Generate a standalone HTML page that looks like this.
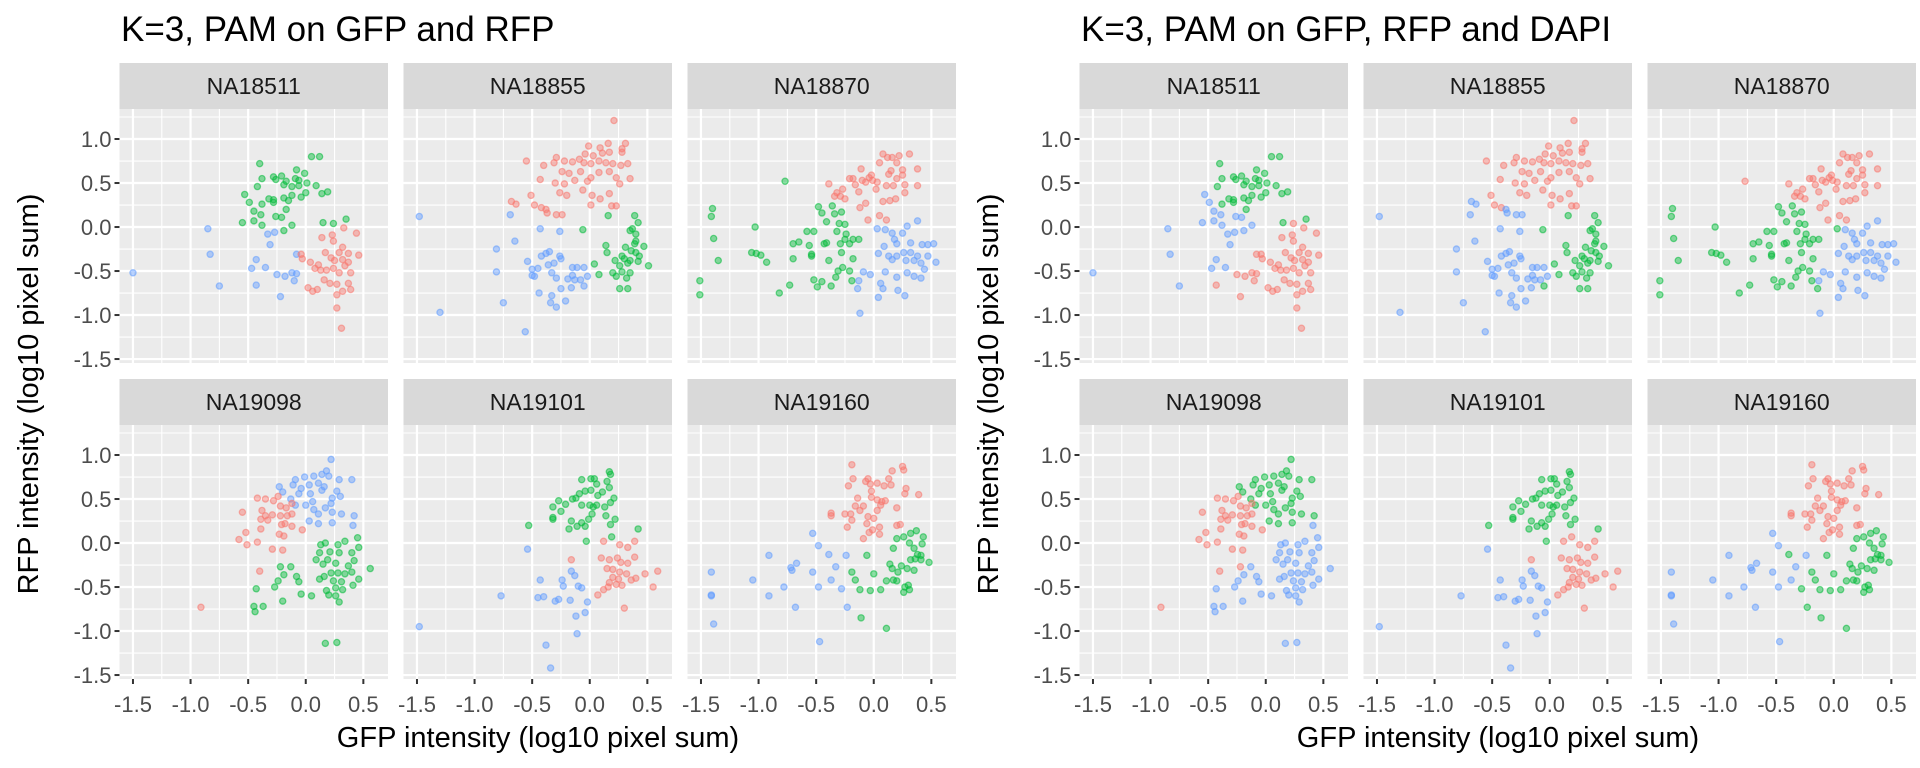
<!DOCTYPE html>
<html><head><meta charset="utf-8">
<style>
html,body{margin:0;padding:0;background:#fff;}
svg{display:block;font-family:"Liberation Sans",Arial,sans-serif;}
</style></head>
<body>
<svg id="chart" width="1920" height="768" viewBox="0 0 1920 768" xmlns="http://www.w3.org/2000/svg">
<rect width="1920" height="768" fill="#fff"/>
</svg>
<script>
// ---- data ----
const plotTitles = ["K=3, PAM on GFP and RFP", "K=3, PAM on GFP, RFP and DAPI"];
const panelNames = ["NA18511","NA18855","NA18870","NA19098","NA19101","NA19160"];
const xTicks = [-1.5,-1.0,-0.5,0.0,0.5];
const xTickLabels = ["-1.5","-1.0","-0.5","0.0","0.5"];
const yTicks = [1.0,0.5,0.0,-0.5,-1.0,-1.5];
const yTickLabels = ["1.0","0.5","0.0","-0.5","-1.0","-1.5"];
// points: [gfp, rfp, cluster in left plot, cluster in right plot]
const NA18511 = [
[-0.4,0.72,"G","G"],[0.05,0.8,"G","G"],[0.12,0.8,"G","G"],[-0.08,0.65,"G","G"],[-0.01,0.61,"G","G"],[-0.28,0.57,"G","G"],[-0.21,0.58,"G","G"],[-0.38,0.55,"G","G"],[-0.26,0.54,"G","G"],[-0.17,0.52,"G","G"],[-0.09,0.55,"G","G"],[-0.06,0.53,"G","G"],[0.01,0.5,"G","G"],[0.09,0.47,"G","G"],[-0.42,0.46,"G","G"],[-0.19,0.48,"G","G"],[-0.12,0.46,"G","G"],[-0.06,0.47,"G","G"],[-0.32,0.32,"G","G"],[-0.28,0.31,"G","G"],[-0.28,0.28,"G","G"],[-0.19,0.33,"G","G"],[-0.15,0.3,"G","G"],[-0.12,0.36,"G","G"],[-0.04,0.34,"G","G"],[0.0,0.39,"G","G"],[0.14,0.38,"G","G"],[0.19,0.4,"G","G"],[-0.38,0.26,"G","G"],[-0.17,0.2,"G","G"],[0.15,0.05,"G","G"],[0.35,0.09,"G","G"],[0.24,0.04,"G","R"],
[-0.53,0.37,"G","B"],[-0.49,0.28,"G","B"],[-0.45,0.18,"G","B"],[-0.39,0.14,"G","B"],[-0.26,0.12,"G","B"],[-0.21,0.11,"G","B"],[-0.45,0.07,"G","B"],[-0.55,0.05,"G","B"],[-0.38,0.02,"G","B"],[-0.12,0.02,"G","B"],[-0.19,-0.04,"G","B"],
[-1.5,-0.52,"B","B"],[-0.85,-0.02,"B","B"],[-0.83,-0.31,"B","B"],[-0.75,-0.67,"B","B"],[-0.33,-0.08,"B","B"],[-0.27,-0.06,"B","B"],[-0.31,-0.2,"B","B"],[-0.43,-0.37,"B","B"],[-0.47,-0.47,"B","B"],[-0.35,-0.46,"B","B"],
[-0.43,-0.66,"B","R"],[-0.25,-0.54,"B","R"],[-0.18,-0.56,"B","R"],[-0.12,-0.52,"B","R"],[-0.08,-0.53,"B","R"],[-0.1,-0.61,"B","R"],[-0.22,-0.79,"B","R"],[-0.08,-0.31,"B","R"],
[-0.04,-0.31,"R","R"],[-0.03,-0.36,"R","R"],[0.04,-0.4,"R","R"],[0.14,-0.12,"R","R"],[0.23,-0.09,"R","R"],[0.24,-0.16,"R","R"],[0.33,-0.01,"R","R"],[0.44,-0.07,"R","R"],[0.32,-0.23,"R","R"],[0.17,-0.29,"R","R"],[0.29,-0.29,"R","R"],[0.37,-0.3,"R","R"],[0.46,-0.32,"R","R"],[0.22,-0.35,"R","R"],[0.25,-0.38,"R","R"],[0.32,-0.37,"R","R"],[0.37,-0.4,"R","R"],[0.08,-0.47,"R","R"],[0.13,-0.49,"R","R"],[0.18,-0.49,"R","R"],[0.24,-0.47,"R","R"],[0.29,-0.52,"R","R"],[0.39,-0.52,"R","R"],[0.16,-0.6,"R","R"],[0.21,-0.64,"R","R"],[0.27,-0.65,"R","R"],[0.37,-0.64,"R","R"],[0.02,-0.69,"R","R"],[0.06,-0.73,"R","R"],[0.1,-0.71,"R","R"],[0.32,-0.73,"R","R"],[0.39,-0.71,"R","R"],[0.27,-0.77,"R","R"],[0.27,-0.92,"R","R"],[0.31,-1.15,"R","R"],[0.11,-0.43,"R","R"],[0.34,-0.44,"R","R"]
];
const NA18855 = [
[0.21,1.21,"R","R"],[0.16,0.95,"R","R"],[0.31,0.95,"R","R"],[-0.01,0.92,"R","R"],[0.09,0.9,"R","R"],[0.28,0.89,"R","R"],[-0.04,0.83,"R","R"],[0.03,0.81,"R","R"],[0.11,0.84,"R","R"],[0.17,0.85,"R","R"],[0.28,0.85,"R","R"],[-0.55,0.75,"R","R"],[-0.29,0.79,"R","R"],[-0.31,0.73,"R","R"],[-0.22,0.75,"R","R"],[-0.15,0.74,"R","R"],[-0.09,0.77,"R","R"],[-0.05,0.73,"R","R"],[0.01,0.72,"R","R"],[0.08,0.75,"R","R"],[0.14,0.73,"R","R"],[0.2,0.72,"R","R"],[0.27,0.7,"R","R"],[0.33,0.72,"R","R"],[-0.4,0.7,"R","R"],[-0.24,0.63,"R","R"],[-0.18,0.61,"R","R"],[-0.08,0.63,"R","R"],[0.01,0.56,"R","R"],[0.08,0.62,"R","R"],[0.17,0.63,"R","R"],[0.23,0.56,"R","R"],[0.35,0.55,"R","R"],[-0.43,0.54,"R","R"],[-0.3,0.5,"R","R"],[-0.22,0.49,"R","R"],[-0.13,0.53,"R","R"],[-0.02,0.52,"R","R"],[0.26,0.49,"R","R"],[-0.26,0.39,"R","R"],[-0.2,0.36,"R","R"],[-0.06,0.42,"R","R"],[0.02,0.36,"R","R"],[0.09,0.32,"R","R"],[0.17,0.38,"R","R"],[-0.51,0.36,"R","R"],[-0.68,0.29,"R","B"],[-0.64,0.26,"R","B"],[-0.48,0.25,"R","R"],[-0.42,0.22,"R","R"],[-0.38,0.2,"R","B"],[-0.37,0.16,"R","B"],[-0.29,0.14,"R","B"],[-0.24,0.14,"R","B"],[0.01,0.25,"R","R"],[0.19,0.24,"R","R"],[0.23,0.24,"R","R"],
[-1.48,0.12,"B","B"],[-0.69,0.14,"B","B"],[-0.43,-0.02,"B","B"],[-0.26,-0.05,"B","B"],[-0.65,-0.16,"B","B"],[-0.81,-0.25,"B","B"],[-0.81,-0.51,"B","B"],[-0.75,-0.86,"B","B"],[-1.3,-0.97,"B","B"],[-0.56,-1.19,"B","B"],[-0.54,-0.39,"B","B"],[-0.5,-0.48,"B","B"],[-0.5,-0.55,"B","B"],[-0.48,-0.56,"B","B"],[-0.45,-0.47,"B","B"],[-0.42,-0.33,"B","B"],[-0.38,-0.3,"B","B"],[-0.35,-0.28,"B","B"],[-0.36,-0.43,"B","B"],[-0.31,-0.41,"B","B"],[-0.26,-0.33,"B","B"],[-0.25,-0.36,"B","B"],[-0.33,-0.52,"B","B"],[-0.29,-0.58,"B","B"],[-0.25,-0.7,"B","B"],[-0.15,-0.46,"B","B"],[-0.11,-0.46,"B","B"],[-0.15,-0.55,"B","B"],[-0.19,-0.59,"B","B"],[-0.13,-0.6,"B","B"],[-0.08,-0.6,"B","B"],[-0.05,-0.67,"B","G"],[-0.02,-0.56,"B","B"],[-0.16,-0.69,"B","B"],[-0.44,-0.75,"B","B"],[-0.33,-0.78,"B","B"],[-0.34,-0.86,"B","B"],[-0.29,-0.91,"B","B"],[-0.21,-0.84,"B","B"],[-0.05,-0.46,"B","B"],
[0.16,0.13,"G","G"],[-0.06,-0.03,"G","G"],[0.39,0.13,"G","G"],[0.42,0.05,"G","G"],[0.37,-0.02,"G","G"],[0.35,-0.04,"G","G"],[0.4,-0.08,"G","G"],[0.4,-0.16,"G","G"],[0.39,-0.19,"G","G"],[0.14,-0.21,"G","G"],[0.15,-0.29,"G","G"],[0.47,-0.22,"G","G"],[0.31,-0.23,"G","G"],[0.36,-0.27,"G","G"],[0.4,-0.29,"G","G"],[0.28,-0.33,"G","G"],[0.43,-0.33,"G","G"],[0.22,-0.38,"G","G"],[0.3,-0.36,"G","G"],[0.35,-0.38,"G","G"],[0.42,-0.39,"G","G"],[0.04,-0.42,"G","G"],[0.26,-0.44,"G","G"],[0.33,-0.41,"G","G"],[0.51,-0.44,"G","G"],[0.2,-0.52,"G","G"],[0.28,-0.51,"G","G"],[0.35,-0.52,"G","G"],[0.08,-0.54,"G","G"],[0.23,-0.56,"G","G"],[0.32,-0.58,"G","G"],[0.26,-0.7,"G","G"],[0.33,-0.7,"G","G"]
];
const NA18870 = [
[-0.77,0.52,"G","R"],[-1.4,0.21,"G","G"],[-1.41,0.12,"G","G"],[-1.39,-0.13,"G","G"],[-1.35,-0.38,"G","G"],[-1.51,-0.61,"G","G"],[-1.51,-0.77,"G","G"],[-1.03,0.0,"G","G"],[-1.06,-0.29,"G","G"],[-1.02,-0.3,"G","G"],[-0.98,-0.32,"G","G"],[-0.93,-0.4,"G","G"],[-0.82,-0.75,"G","G"],[-0.73,-0.66,"G","G"],[-0.7,-0.36,"G","G"],[-0.7,-0.19,"G","G"],[-0.65,-0.17,"G","G"],[-0.58,-0.05,"G","G"],[-0.52,-0.05,"G","G"],[-0.56,-0.21,"G","G"],[-0.54,-0.31,"G","G"],[-0.54,-0.33,"G","G"],[-0.52,-0.6,"G","G"],[-0.49,-0.68,"G","G"],[-0.45,-0.62,"G","G"],[-0.37,-0.67,"G","G"],[-0.48,0.23,"G","G"],[-0.45,0.16,"G","G"],[-0.41,0.06,"G","G"],[-0.36,0.24,"G","G"],[-0.34,0.15,"G","G"],[-0.28,0.17,"G","G"],[-0.3,0.04,"G","G"],[-0.25,0.03,"G","G"],[-0.32,-0.05,"G","G"],[-0.43,-0.19,"G","G"],[-0.41,-0.18,"G","G"],[-0.39,-0.38,"G","G"],[-0.28,-0.29,"G","G"],[-0.29,-0.19,"G","G"],[-0.24,-0.08,"G","G"],[-0.25,-0.14,"G","G"],[-0.21,-0.19,"G","G"],[-0.18,-0.14,"G","G"],[-0.13,-0.14,"G","G"],[-0.18,-0.36,"G","G"],[-0.31,-0.5,"G","G"],[-0.27,-0.46,"G","G"],[-0.21,-0.5,"G","G"],[-0.33,-0.57,"G","G"],[-0.19,-0.61,"G","G"],
[-0.39,0.49,"R","R"],[-0.32,0.39,"R","R"],[-0.34,0.35,"R","R"],[-0.29,0.35,"R","R"],[-0.25,0.32,"R","R"],[-0.27,0.43,"R","R"],[-0.21,0.55,"R","R"],[-0.18,0.55,"R","R"],[-0.11,0.66,"R","R"],[-0.16,0.48,"R","R"],[-0.13,0.4,"R","R"],[-0.1,0.53,"R","R"],[-0.07,0.51,"R","R"],[-0.04,0.56,"R","R"],[-0.01,0.53,"R","R"],[0.03,0.51,"R","R"],[-0.02,0.59,"R","R"],[0.02,0.43,"R","R"],[0.05,0.73,"R","R"],[0.08,0.83,"R","R"],[0.12,0.79,"R","R"],[0.16,0.79,"R","R"],[0.22,0.81,"R","R"],[0.2,0.73,"R","R"],[0.31,0.83,"R","R"],[0.13,0.6,"R","R"],[0.15,0.64,"R","R"],[0.25,0.65,"R","R"],[0.25,0.59,"R","R"],[0.38,0.66,"R","R"],[0.2,0.55,"R","R"],[0.11,0.47,"R","R"],[0.17,0.47,"R","R"],[0.27,0.48,"R","R"],[0.38,0.47,"R","R"],[0.27,0.39,"R","R"],[0.19,0.32,"R","R"],[0.14,0.3,"R","R"],[0.08,0.29,"R","R"],[-0.07,0.27,"R","R"],[-0.12,0.22,"R","R"],[0.05,0.13,"R","R"],[0.11,0.08,"R","R"],[-0.05,0.08,"R","R"],
[0.38,0.07,"B","B"],[0.29,0.01,"B","B"],[0.03,-0.02,"B","G"],[0.1,-0.03,"B","B"],[0.16,-0.07,"B","B"],[0.25,-0.07,"B","B"],[0.18,-0.14,"B","B"],[0.2,-0.19,"B","B"],[0.32,-0.18,"B","B"],[0.42,-0.2,"B","B"],[0.47,-0.2,"B","B"],[0.52,-0.19,"B","B"],[0.09,-0.22,"B","B"],[0.04,-0.3,"B","B"],[0.13,-0.33,"B","B"],[0.2,-0.33,"B","B"],[0.26,-0.29,"B","B"],[0.32,-0.29,"B","B"],[0.38,-0.33,"B","B"],[0.47,-0.33,"B","B"],[0.54,-0.4,"B","B"],[0.16,-0.37,"B","B"],[0.28,-0.38,"B","B"],[0.35,-0.38,"B","B"],[0.41,-0.41,"B","B"],[0.44,-0.48,"B","B"],[0.1,-0.51,"B","B"],[0.2,-0.57,"B","B"],[0.29,-0.52,"B","B"],[0.35,-0.56,"B","B"],[0.41,-0.58,"B","B"],[-0.09,-0.51,"B","B"],[-0.03,-0.54,"B","B"],[-0.13,-0.61,"B","B"],[-0.14,-0.7,"B","G"],[0.06,-0.64,"B","B"],[0.08,-0.7,"B","B"],[0.21,-0.72,"B","B"],[0.27,-0.78,"B","B"],[0.04,-0.8,"B","B"],[-0.12,-0.98,"B","B"]
];
const NA19098 = [
[0.22,0.95,"B","G"],[0.18,0.82,"B","G"],[-0.01,0.75,"B","G"],[0.07,0.76,"B","G"],[0.14,0.78,"B","G"],[0.2,0.76,"B","G"],[0.29,0.72,"B","G"],[0.4,0.72,"B","G"],[-0.09,0.72,"B","G"],[-0.11,0.66,"B","G"],[-0.04,0.62,"B","G"],[0.03,0.66,"B","G"],[0.11,0.68,"B","G"],[0.16,0.64,"B","G"],[-0.23,0.64,"B","G"],[-0.2,0.58,"B","G"],[-0.06,0.56,"B","G"],[0.04,0.56,"B","G"],[0.14,0.6,"B","G"],[0.27,0.59,"B","G"],[0.3,0.53,"B","G"],[-0.13,0.5,"B","G"],[-0.09,0.43,"B","G"],[0.0,0.43,"B","G"],[0.06,0.47,"B","G"],[0.23,0.51,"B","G"],[0.22,0.45,"B","G"],[0.07,0.38,"B","G"],[0.11,0.33,"B","G"],[0.17,0.4,"B","G"],[0.23,0.35,"B","G"],[0.31,0.33,"B","G"],[0.42,0.31,"B","G"],[0.03,0.25,"B","G"],[0.11,0.22,"B","G"],[0.23,0.23,"B","G"],[0.41,0.2,"B","B"],
[-0.42,0.51,"R","R"],[-0.35,0.5,"R","R"],[-0.28,0.48,"R","R"],[-0.24,0.53,"R","R"],[-0.22,0.42,"R","R"],[-0.17,0.4,"R","R"],[-0.12,0.45,"R","R"],[-0.55,0.35,"R","R"],[-0.38,0.37,"R","R"],[-0.35,0.31,"R","R"],[-0.29,0.32,"R","R"],[-0.39,0.27,"R","R"],[-0.33,0.26,"R","R"],[-0.22,0.31,"R","R"],[-0.16,0.31,"R","R"],[-0.12,0.33,"R","R"],[-0.21,0.21,"R","R"],[-0.18,0.22,"R","R"],[-0.12,0.19,"R","R"],[-0.39,0.16,"R","R"],[-0.23,0.1,"R","R"],[-0.19,0.08,"R","R"],[-0.03,0.15,"R","R"],[-0.52,0.12,"R","R"],[-0.58,0.04,"R","R"],[-0.51,-0.02,"R","R"],[-0.42,0.01,"R","R"],[-0.29,-0.07,"R","R"],[-0.2,-0.08,"R","R"],[-0.4,-0.32,"R","R"],[-0.91,-0.73,"R","R"],
[0.13,-0.02,"G","B"],[0.17,0.0,"G","B"],[0.28,-0.02,"G","B"],[0.34,0.02,"G","B"],[0.45,0.06,"G","B"],[0.46,-0.05,"G","B"],[0.12,-0.11,"G","B"],[0.21,-0.1,"G","B"],[0.29,-0.11,"G","B"],[0.4,-0.11,"G","B"],[0.09,-0.19,"G","B"],[0.15,-0.24,"G","B"],[0.19,-0.19,"G","B"],[0.26,-0.23,"G","B"],[0.37,-0.26,"G","B"],[0.42,-0.2,"G","B"],[0.56,-0.29,"G","B"],[-0.22,-0.27,"G","R"],[-0.13,-0.27,"G","B"],[-0.19,-0.36,"G","B"],[-0.08,-0.38,"G","B"],[-0.06,-0.44,"G","B"],[-0.24,-0.43,"G","B"],[-0.27,-0.5,"G","B"],[0.12,-0.41,"G","B"],[0.16,-0.38,"G","B"],[0.22,-0.34,"G","B"],[0.28,-0.34,"G","B"],[0.34,-0.35,"G","B"],[0.4,-0.33,"G","B"],[0.24,-0.43,"G","B"],[0.31,-0.44,"G","B"],[0.41,-0.48,"G","B"],[0.46,-0.41,"G","B"],[0.26,-0.51,"G","B"],[0.32,-0.53,"G","B"],[0.18,-0.54,"G","B"],[0.2,-0.59,"G","B"],[0.26,-0.6,"G","B"],[0.29,-0.67,"G","B"],[-0.43,-0.52,"G","B"],[-0.04,-0.58,"G","B"],[0.05,-0.6,"G","B"],[-0.2,-0.66,"G","B"],[-0.45,-0.72,"G","B"],[-0.37,-0.72,"G","B"],[-0.44,-0.78,"G","B"],[0.17,-1.14,"G","B"],[0.27,-1.13,"G","B"]
];
const NA19101 = [
[0.17,0.81,"G","G"],[0.18,0.78,"G","G"],[-0.07,0.72,"G","G"],[0.01,0.73,"G","G"],[0.04,0.73,"G","G"],[0.06,0.67,"G","G"],[0.15,0.7,"G","G"],[0.17,0.63,"G","G"],[-0.04,0.59,"G","G"],[0.01,0.6,"G","G"],[-0.09,0.56,"G","G"],[0.11,0.58,"G","G"],[0.07,0.54,"G","G"],[0.21,0.51,"G","G"],[0.18,0.46,"G","G"],[-0.15,0.5,"G","G"],[-0.12,0.51,"G","G"],[-0.07,0.43,"G","G"],[0.0,0.43,"G","G"],[0.03,0.41,"G","G"],[0.06,0.43,"G","G"],[0.13,0.41,"G","G"],[-0.27,0.48,"G","G"],[-0.21,0.44,"G","G"],[-0.32,0.41,"G","G"],[-0.25,0.36,"G","G"],[-0.32,0.29,"G","G"],[-0.32,0.27,"G","G"],[0.02,0.33,"G","G"],[-0.01,0.27,"G","G"],[-0.07,0.23,"G","G"],[-0.11,0.19,"G","G"],[-0.16,0.25,"G","G"],[-0.18,0.16,"G","G"],[-0.04,0.19,"G","G"],[0.14,0.31,"G","G"],[0.22,0.27,"G","G"],[0.18,0.21,"G","G"],[0.19,0.07,"G","R"],[0.42,0.16,"G","G"],[-0.53,0.2,"G","G"],[-0.03,0.02,"G","G"],
[0.12,0.02,"R","R"],[0.26,-0.02,"R","R"],[0.33,-0.05,"R","R"],[0.39,0.02,"R","R"],[-0.16,-0.19,"R","R"],[0.1,-0.17,"R","R"],[0.17,-0.19,"R","R"],[0.24,-0.17,"R","R"],[0.27,-0.22,"R","R"],[0.33,-0.23,"R","R"],[0.39,-0.16,"R","R"],[0.15,-0.29,"R","R"],[0.2,-0.3,"R","R"],[0.26,-0.33,"R","R"],[0.32,-0.35,"R","R"],[0.48,-0.35,"R","R"],[0.59,-0.32,"R","R"],[0.2,-0.39,"R","R"],[0.25,-0.41,"R","R"],[0.36,-0.42,"R","R"],[0.4,-0.4,"R","R"],[0.17,-0.45,"R","R"],[0.23,-0.47,"R","R"],[0.28,-0.48,"R","R"],[0.12,-0.53,"R","R"],[0.16,-0.5,"R","R"],[0.07,-0.59,"R","R"],[0.55,-0.5,"R","R"],[0.3,-0.74,"R","R"],
[-1.48,-0.95,"B","B"],[-0.77,-0.6,"B","B"],[-0.54,-0.07,"B","B"],[-0.43,-0.42,"B","B"],[-0.45,-0.62,"B","B"],[-0.4,-0.61,"B","B"],[-0.3,-0.66,"B","B"],[-0.27,-0.64,"B","B"],[-0.24,-0.42,"B","B"],[-0.23,-0.49,"B","B"],[-0.16,-0.32,"B","B"],[-0.13,-0.37,"B","B"],[-0.1,-0.49,"B","B"],[-0.07,-0.51,"B","B"],[-0.17,-0.65,"B","B"],[-0.02,-0.67,"B","B"],[-0.04,-0.79,"B","B"],[-0.12,-0.83,"B","B"],[-0.11,-1.03,"B","B"],[-0.38,-1.16,"B","B"],[-0.34,-1.42,"B","B"]
];
const NA19160 = [
[-0.19,0.89,"R","R"],[0.25,0.87,"R","R"],[0.26,0.83,"R","R"],[0.16,0.82,"R","R"],[0.13,0.73,"R","R"],[-0.18,0.73,"R","R"],[-0.05,0.73,"R","R"],[-0.07,0.7,"R","R"],[-0.03,0.67,"R","R"],[0.03,0.68,"R","R"],[0.09,0.65,"R","R"],[0.15,0.66,"R","R"],[-0.22,0.65,"R","R"],[-0.02,0.59,"R","R"],[0.28,0.62,"R","R"],[0.27,0.56,"R","R"],[0.39,0.55,"R","R"],[-0.14,0.51,"R","R"],[-0.02,0.52,"R","R"],[0.03,0.49,"R","R"],[0.07,0.47,"R","R"],[0.1,0.48,"R","R"],[0.06,0.43,"R","R"],[-0.16,0.42,"R","R"],[-0.09,0.42,"R","R"],[-0.12,0.37,"R","R"],[0.03,0.37,"R","R"],[0.2,0.4,"R","R"],[-0.37,0.34,"R","R"],[-0.37,0.31,"R","R"],[-0.25,0.33,"R","R"],[-0.2,0.33,"R","R"],[-0.19,0.26,"R","R"],[-0.05,0.3,"R","R"],[0.0,0.28,"R","R"],[-0.06,0.22,"R","R"],[-0.23,0.18,"R","R"],[0.05,0.18,"R","R"],[0.2,0.2,"R","R"],[0.23,0.21,"R","R"],[-0.01,0.15,"R","R"],[-0.04,0.12,"R","R"],[0.05,0.1,"R","R"],[-0.09,0.05,"R","R"],
[0.37,0.14,"G","G"],[0.32,0.11,"G","G"],[0.43,0.07,"G","G"],[0.2,0.05,"G","G"],[0.26,0.07,"G","G"],[0.31,0.0,"G","G"],[0.42,-0.01,"G","G"],[0.17,-0.06,"G","G"],[0.35,-0.06,"G","G"],[0.38,-0.13,"G","G"],[0.41,-0.14,"G","G"],[-0.06,-0.14,"G","G"],[0.48,-0.22,"G","G"],[0.32,-0.19,"G","G"],[0.36,-0.18,"G","G"],[0.41,-0.19,"G","G"],[0.14,-0.24,"G","G"],[0.16,-0.29,"G","G"],[0.24,-0.26,"G","G"],[0.29,-0.29,"G","G"],[0.35,-0.31,"G","G"],[0.21,-0.33,"G","G"],[-0.19,-0.33,"G","G"],[0.0,-0.35,"G","G"],[-0.16,-0.42,"G","G"],[0.11,-0.43,"G","G"],[0.17,-0.42,"G","G"],[0.2,-0.43,"G","G"],[0.3,-0.48,"G","G"],[0.27,-0.5,"G","G"],[0.31,-0.53,"G","G"],[0.26,-0.56,"G","G"],[-0.12,-0.53,"G","G"],[-0.03,-0.54,"G","G"],[0.06,-0.53,"G","G"],[-0.11,-0.85,"G","G"],[0.11,-0.97,"G","G"],
[-0.53,0.11,"B","B"],[-0.48,-0.03,"B","B"],[-0.91,-0.14,"B","B"],[-0.39,-0.13,"B","G"],[-0.24,-0.14,"B","B"],[-0.67,-0.23,"B","B"],[-0.72,-0.28,"B","B"],[-0.71,-0.31,"B","B"],[-0.53,-0.33,"B","B"],[-0.33,-0.27,"B","B"],[-1.41,-0.33,"B","B"],[-1.05,-0.42,"B","B"],[-0.78,-0.5,"B","B"],[-0.37,-0.42,"B","B"],[-0.48,-0.5,"B","B"],[-0.28,-0.52,"B","G"],[-1.41,-0.59,"B","B"],[-1.41,-0.6,"B","B"],[-0.91,-0.6,"B","B"],[-0.68,-0.73,"B","B"],[-0.23,-0.73,"B","G"],[-1.39,-0.92,"B","B"],[-0.47,-1.12,"B","B"]
];
const panelData = [NA18511, NA18855, NA18870, NA19098, NA19101, NA19160];
const clusterColors = {R:"#F8766D", G:"#00BA38", B:"#619CFF"};

// ---- layout ----
const NS = "http://www.w3.org/2000/svg";
const svg = document.getElementById("chart");
const colX = [119.5, 403.5, 687.5];
const panelW = 268.5;
const stripTop = [63, 379];
const stripH = 46;
const panelTop = [109, 425];
const panelH = 254;
const X_MIN = -1.617, X_MAX = 0.714;
const Y_MIN = -1.545, Y_MAX = 1.341;

function mk(tag, attrs, parent) {
  const e = document.createElementNS(NS, tag);
  for (const k in attrs) e.setAttribute(k, attrs[k]);
  (parent || svg).appendChild(e);
  return e;
}
function xScale(v, col, off) { return off + colX[col] + (v - X_MIN) / (X_MAX - X_MIN) * panelW; }
function yScale(v, row) { return panelTop[row] + (Y_MAX - v) / (Y_MAX - Y_MIN) * panelH; }

[0, 1].forEach(function (plot) {
  const off = plot * 960;
  const g = mk("g", {});
  
  

  const t = mk("text", {x: off + 121, y: 41, "font-size": 35, fill: "#000"}, g);
  t.textContent = plotTitles[plot];
  
  

  panelNames.forEach(function (name, i) {
    const row = Math.floor(i / 3), col = i % 3;
    const px = off + colX[col];
    const pg = mk("g", {}, g);
    
    

    const strip = mk("rect", {x: px, y: stripTop[row], width: panelW, height: stripH, fill: "#d9d9d9"}, pg);
    
    
    const st = mk("text", {x: px + panelW / 2, y: stripTop[row] + 31, "font-size": 23, fill: "#1a1a1a", "text-anchor": "middle"}, pg);
    st.textContent = name;
    
    

    const bg = mk("rect", {x: px, y: panelTop[row], width: panelW, height: panelH, fill: "#ebebeb"}, pg);
    
    

    // minor grid
    [-1.25, -0.75, -0.25, 0.25].forEach(function (v) {
      const xx = xScale(v, col, off);
      const l = mk("line", {x1: xx, x2: xx, y1: panelTop[row], y2: panelTop[row] + panelH, stroke: "#fff", "stroke-width": 1.1}, pg);
      
      
    });
    [1.25, 0.75, 0.25, -0.25, -0.75, -1.25].forEach(function (v) {
      const yy = yScale(v, row);
      const l = mk("line", {x1: px, x2: px + panelW, y1: yy, y2: yy, stroke: "#fff", "stroke-width": 1.1}, pg);
      
      
    });
    // major grid
    xTicks.forEach(function (v) {
      const xx = xScale(v, col, off);
      const l = mk("line", {x1: xx, x2: xx, y1: panelTop[row], y2: panelTop[row] + panelH, stroke: "#fff", "stroke-width": 2.2}, pg);
      
      
    });
    yTicks.forEach(function (v) {
      const yy = yScale(v, row);
      const l = mk("line", {x1: px, x2: px + panelW, y1: yy, y2: yy, stroke: "#fff", "stroke-width": 2.2}, pg);
      
      
    });

    // points
    panelData[i].forEach(function (p) {
      const c = clusterColors[plot === 0 ? p[2] : p[3]];
      const dot = mk("circle", {cx: xScale(p[0], col, off), cy: yScale(p[1], row), r: 3.1, fill: c, "fill-opacity": 0.45, stroke: c, "stroke-opacity": 0.55, "stroke-width": 1.3}, pg);
      
      
    });

    // y axis ticks on first column
    if (col === 0) {
      yTicks.forEach(function (v, k) {
        const yy = yScale(v, row);
        const tk = mk("line", {x1: px - 5, x2: px, y1: yy, y2: yy, stroke: "#333", "stroke-width": 2}, pg);
        
        
        const tl = mk("text", {x: px - 8, y: yy + 8, "font-size": 22, fill: "#4d4d4d", "text-anchor": "end"}, pg);
        tl.textContent = yTickLabels[k];
        
        
      });
    }
    // x axis ticks on bottom row
    if (row === 1) {
      xTicks.forEach(function (v, k) {
        const xx = xScale(v, col, off);
        const tk = mk("line", {x1: xx, x2: xx, y1: panelTop[row] + panelH, y2: panelTop[row] + panelH + 5, stroke: "#333", "stroke-width": 2}, pg);
        
        
        const tl = mk("text", {x: xx, y: 712, "font-size": 22, fill: "#4d4d4d", "text-anchor": "middle"}, pg);
        tl.textContent = xTickLabels[k];
        
        
      });
    }
  });

  const xt = mk("text", {x: off + 538, y: 747, "font-size": 29, fill: "#000", "text-anchor": "middle"}, g);
  xt.textContent = "GFP intensity (log10 pixel sum)";
  
  
  const yt = mk("text", {x: 0, y: 0, "font-size": 29, fill: "#000", "text-anchor": "middle", transform: "translate(" + (off + 38) + ",394) rotate(-90)"}, g);
  yt.textContent = "RFP intensity (log10 pixel sum)";
  
  
});
</script>
</body></html>
